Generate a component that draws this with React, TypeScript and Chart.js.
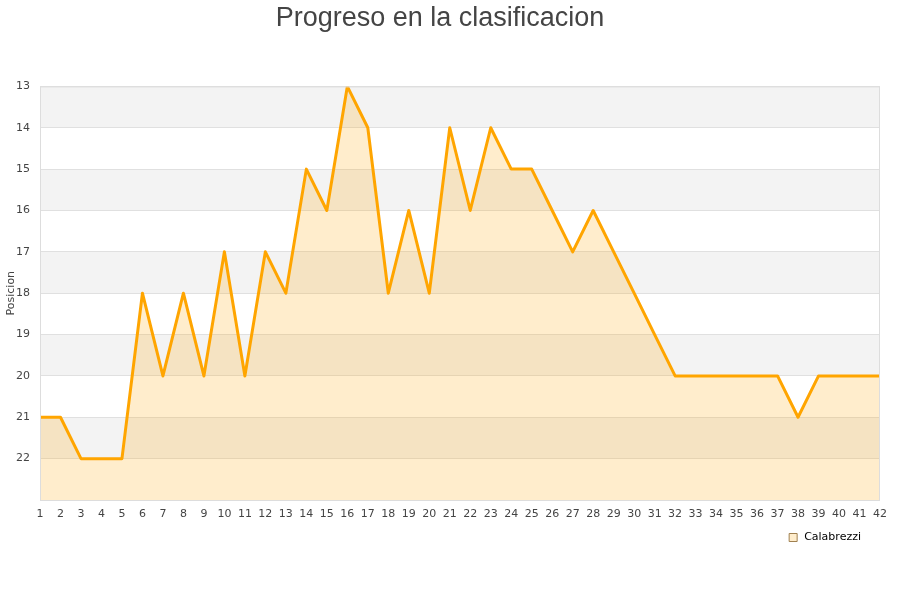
import React, { useEffect, useRef } from "react";
import { Chart, registerables } from "chart.js";

Chart.register(...registerables);

const jornadas: string[] = Array.from({ length: 42 }, (_, i) => String(i + 1));
const posiciones: number[] = [
  21, 21, 22, 22, 22, 18, 20, 18, 20, 17,
  20, 17, 18, 15, 16, 13, 14, 18, 16, 18,
  14, 16, 14, 15, 15, 16, 17, 16, 17, 18,
  19, 20, 20, 20, 20, 20, 20, 21, 20, 20,
  20, 20,
];
const bandStarts: number[] = [13, 15, 17, 19, 21];

const bandsPlugin = {
  id: "bands",
  afterLayout(chart: any) {
    if (chart.legend) {
      chart.legend.right -= 9;
    }
  },
  beforeDraw(chart: any) {
    const { ctx, chartArea, scales } = chart;
    const y = scales.y;
    ctx.save();
    ctx.fillStyle = "#f3f3f3";
    bandStarts.forEach((b) => {
      const y1 = y.getPixelForValue(b);
      const y2 = y.getPixelForValue(b + 1);
      ctx.fillRect(chartArea.left, Math.min(y1, y2), chartArea.right - chartArea.left, Math.abs(y2 - y1));
    });
    ctx.restore();
  },
  afterDraw(chart: any) {
    const { ctx, chartArea } = chart;
    ctx.save();
    ctx.strokeStyle = "#dddddd";
    ctx.lineWidth = 1;
    ctx.strokeRect(chartArea.left + 0.5, chartArea.top + 0.5, chartArea.right - chartArea.left - 1, chartArea.bottom - chartArea.top);
    ctx.restore();
  },
};

export default function App() {
  const ref = useRef<HTMLCanvasElement>(null);
  useEffect(() => {
    if (!ref.current) return;
    const chart = new Chart(ref.current, {
      type: "line",
      data: {
        labels: jornadas,
        datasets: [
          {
            label: "Calabrezzi",
            data: posiciones,
            borderColor: "#FFA500",
            backgroundColor: "rgba(255,165,0,0.2)",
            borderWidth: 3,
            borderJoinStyle: "round",
            pointRadius: 0,
            tension: 0,
            fill: "start",
          },
        ],
      },
      options: {
        animation: false,
        responsive: false,
        maintainAspectRatio: false,
        layout: { padding: { left: 0, right: 20, top: 0, bottom: 47 } },
        plugins: {
          title: {
            display: true,
            text: "Progreso en la clasificacion",
            color: "#444444",
            font: { family: "Liberation Sans", size: 27, weight: "normal" },
            padding: { top: 2, bottom: 52 },
          },
          legend: {
            position: "bottom",
            align: "end",
            labels: {
              boxWidth: 11,
              boxHeight: 8,
              usePointStyle: true,
              pointStyle: "rect",
              padding: 10,
              color: "#000000",
              font: { family: "DejaVu Sans", size: 11 },
              generateLabels: () => [
                {
                  text: "Calabrezzi",
                  fillStyle: "#FFEDCC",
                  strokeStyle: "#a08050",
                  lineWidth: 1,
                  pointStyle: "rect",
                  fontColor: "#000000",
                  hidden: false,
                  datasetIndex: 0,
                } as any,
              ],
            },
          },
          tooltip: { enabled: false },
        },
        scales: {
          x: {
            type: "category",
            offset: false,
            grid: { display: false, drawTicks: false },
            border: { display: false },
            ticks: {
              autoSkip: false,
              maxRotation: 0,
              padding: 8,
              color: "#444444",
              font: { family: "DejaVu Sans", size: 11 },
            },
            afterFit: (scale: any) => {
              scale.height = 22;
            },
          },
          y: {
            reverse: true,
            min: 13,
            max: 23,
            grid: { color: "#e0e0e0", drawTicks: false },
            border: { display: false },
            ticks: {
              stepSize: 1,
              padding: 10,
              color: "#444444",
              font: { family: "DejaVu Sans", size: 11 },
              callback: (v: any) => (v === 23 ? "" : String(v)),
            },
            title: {
              display: true,
              text: "Posicion",
              color: "#444444",
              font: { family: "DejaVu Sans", size: 11 },
              padding: { top: 5, bottom: 0 },
            },
            afterFit: (scale: any) => {
              scale.width = 40;
            },
          },
        },
      },
      plugins: [bandsPlugin],
    });
    return () => chart.destroy();
  }, []);
  return (
    <div style={{ position: "absolute", left: 0, top: 0, width: 900, height: 600 }}>
      <canvas ref={ref} width={900} height={600} style={{ width: 900, height: 600 }} />
    </div>
  );
}
